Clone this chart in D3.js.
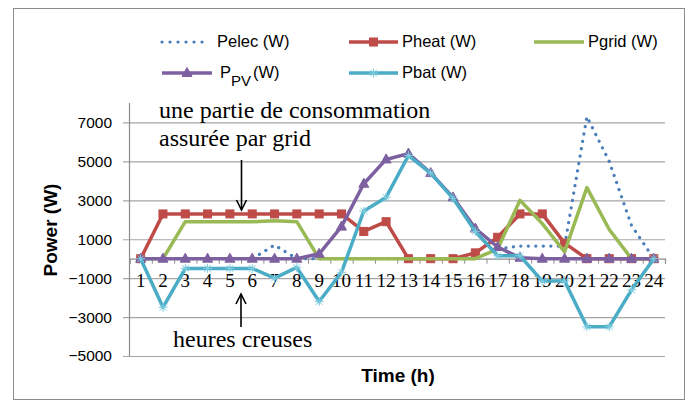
<!DOCTYPE html>
<html>
<head>
<meta charset="utf-8">
<script src="https://cdn.jsdelivr.net/npm/d3@7"></script>
<style>
  body { margin: 0; background: #fff; }
  svg { display: block; }
</style>
</head>
<body>
<script>
// Hourly power profile over one day (W)
const hours = d3.range(1, 25);
const pelec = [0, 0, 0, 0, 0, 0, 700, 0, 0, 0, 0, 0, 0, 0, 0, 0, 500, 650, 650, 650, 7300, 5000, 1700, 0];
const pheat = [0, 2300, 2300, 2300, 2300, 2300, 2300, 2300, 2300, 2300, 1400, 1900, 0, 0, 0, 300, 1100, 2300, 2300, 800, 0, 0, 0, 0];
const pgrid = [0, 0, 1900, 1900, 1900, 1900, 1950, 1900, 0, 0, 0, 0, 0, 0, 0, 0, 500, 3000, 1800, 350, 3650, 1500, 0, 0];
const ppv   = [0, 0, 0, 0, 0, 0, 0, 0, 250, 1650, 3850, 5100, 5400, 4400, 3150, 1550, 600, 50, 0, 0, 0, 0, 0, 0];
const pbat  = [0, -2500, -500, -500, -500, -500, -1000, -450, -2200, -700, 2450, 3150, 5300, 4400, 3100, 1400, 150, 150, -1150, -1150, -3500, -3500, -1600, 0];
const yTicks = [-5000, -3000, -1000, 1000, 3000, 5000, 7000];

const W = 691, H = 406;
const plotL = 129.5, plotR = 665, plotT = 103, plotB = 356;

const svg = d3.select("body").append("svg").attr("width", W).attr("height", H);
svg.append("rect").attr("width", W).attr("height", H).attr("fill", "#fff");
svg.append("rect").attr("x", 13.5).attr("y", 8.5).attr("width", 671).attr("height", 391)
  .attr("fill", "none").attr("stroke", "#8c8c8c").attr("stroke-width", 1);

const x = d3.scaleBand().domain(hours).range([plotL, plotR]);
const xEdge = d3.scaleLinear().domain([0, 24]).range([plotL, plotR]);
const y = d3.scaleLinear().domain([-5000, 8000]).range([plotB, plotT]);
const cx = h => x(h) + x.bandwidth() / 2;

// Horizontal gridlines with value labels
const gy = svg.append("g").attr("transform", `translate(${plotR},0)`)
  .call(d3.axisLeft(y).tickValues(yTicks).tickSize(plotR - 123).tickPadding(11).tickFormat(d3.format("d")));
gy.select(".domain").remove();
gy.selectAll(".tick line").attr("stroke", "#a6a6a6").attr("stroke-width", 1.2);
gy.selectAll(".tick text").attr("font-family", "Liberation Sans, Arial, sans-serif")
  .attr("font-size", 15.5).attr("fill", "#000");

// Vertical axis line
svg.append("line").attr("x1", plotL).attr("x2", plotL).attr("y1", plotT).attr("y2", plotB)
  .attr("stroke", "#8c8c8c").attr("stroke-width", 1.2);

// Category axis crossing at zero
const gx = svg.append("g").attr("transform", `translate(0,${y(0)})`)
  .call(d3.axisBottom(xEdge).tickValues(d3.range(0, 25)).tickSize(5).tickFormat(""));
gx.select(".domain").attr("stroke", "#8c8c8c").attr("stroke-width", 1.2);
gx.selectAll(".tick line").attr("stroke", "#8c8c8c");

const gxl = svg.append("g").attr("transform", `translate(0,${y(0)})`)
  .call(d3.axisBottom(x).tickSize(0).tickPadding(15));
gxl.select(".domain").remove();
gxl.selectAll(".tick text").attr("font-family", "Liberation Serif, Times New Roman, serif")
  .attr("font-size", 19).attr("fill", "#000");

// Axis titles
svg.append("text").attr("transform", "translate(57,230) rotate(-90)")
  .attr("text-anchor", "middle").attr("font-family", "Liberation Sans, Arial, sans-serif")
  .attr("font-weight", "bold").attr("font-size", 19).text("Power (W)");
svg.append("text").attr("x", 398).attr("y", 382).attr("text-anchor", "middle")
  .attr("font-family", "Liberation Sans, Arial, sans-serif")
  .attr("font-weight", "bold").attr("font-size", 19).text("Time (h)");

// Marker shapes
function drawMarker(g, kind, px, py, color) {
  if (kind === "square") {
    g.append("rect").attr("x", px - 4).attr("y", py - 4).attr("width", 8).attr("height", 8)
      .attr("fill", color).attr("stroke", color);
  } else if (kind === "triangle") {
    g.append("path").attr("d", `M${px},${py - 5.5}L${px + 5},${py + 3.5}L${px - 5},${py + 3.5}Z`)
      .attr("fill", color).attr("stroke", color);
  } else if (kind === "star") {
    const r = 4.5;
    g.append("path")
      .attr("d", `M${px - r},${py}L${px + r},${py}M${px},${py - r}L${px},${py + r}` +
                 `M${px - r * 0.75},${py - r * 0.75}L${px + r * 0.75},${py + r * 0.75}` +
                 `M${px - r * 0.75},${py + r * 0.75}L${px + r * 0.75},${py - r * 0.75}`)
      .attr("stroke", "#7fcde0").attr("stroke-width", 1).attr("fill", "none");
  }
}

const series = [
  { name: "Pelec (W)", values: pelec, color: "#4a7ebb", dotted: true, marker: null },
  { name: "Pheat (W)", values: pheat, color: "#be4b48", dotted: false, marker: "square" },
  { name: "Pgrid (W)", values: pgrid, color: "#98b954", dotted: false, marker: null },
  { name: "PPV", values: ppv, color: "#7d60a0", dotted: false, marker: "triangle" },
  { name: "Pbat (W)", values: pbat, color: "#4bacc6", dotted: false, marker: "star" }
];

const line = d3.line().x(d => cx(d[0])).y(d => y(d[1]));

series.forEach(s => {
  const g = svg.append("g");
  const pts = hours.map((h, i) => [h, s.values[i]]);
  const p = g.append("path").attr("d", line(pts)).attr("fill", "none")
    .attr("stroke", s.color).attr("stroke-linejoin", "round");
  if (s.dotted) {
    p.attr("stroke-width", 3.2).attr("stroke-dasharray", "0.1 7.4").attr("stroke-linecap", "round");
  } else {
    p.attr("stroke-width", 3.5);
  }
  if (s.marker) pts.forEach(d => drawMarker(g, s.marker, cx(d[0]), y(d[1]), s.color));
});

// Legend
const legendFont = "Liberation Sans, Arial, sans-serif";
const legendItems = [
  { s: series[0], x1: 162, x2: 204, ty: 47, ly: 42, tx: 217 },
  { s: series[1], x1: 349, x2: 398, ty: 47, ly: 42, tx: 402 },
  { s: series[2], x1: 534, x2: 584, ty: 47, ly: 42, tx: 588 },
  { s: series[3], x1: 162, x2: 212, ty: 78, ly: 73, tx: 220 },
  { s: series[4], x1: 349, x2: 398, ty: 78, ly: 73, tx: 402 }
];
legendItems.forEach(it => {
  const g = svg.append("g");
  const l = g.append("line").attr("x1", it.x1).attr("x2", it.x2).attr("y1", it.ly).attr("y2", it.ly)
    .attr("stroke", it.s.color);
  if (it.s.dotted) {
    l.attr("stroke-width", 3.2).attr("stroke-dasharray", "0.1 7.9").attr("stroke-linecap", "round");
  } else {
    l.attr("stroke-width", 3.5);
  }
  if (it.s.marker) drawMarker(g, it.s.marker, (it.x1 + it.x2) / 2, it.ly, it.s.color);
  const t = g.append("text").attr("x", it.tx).attr("y", it.ty)
    .attr("font-family", legendFont).attr("font-size", 16.5).attr("fill", "#000");
  if (it.s.name === "PPV") {
    t.append("tspan").text("P");
    t.append("tspan").attr("dy", 8).attr("font-size", 15).text("PV");
    t.append("tspan").attr("dy", -8).attr("dx", 2).text("(W)");
  } else {
    t.text(it.s.name);
  }
});

// Annotations
const serif = "Liberation Serif, Times New Roman, serif";
svg.append("text").attr("x", 159).attr("y", 118).attr("font-family", serif).attr("font-size", 24)
  .text("une partie de consommation");
svg.append("text").attr("x", 159).attr("y", 146).attr("font-family", serif).attr("font-size", 24)
  .text("assurée par grid");
svg.append("text").attr("x", 173).attr("y", 347).attr("font-family", serif).attr("font-size", 24)
  .text("heures creuses");

const arrows = svg.append("g").attr("stroke", "#000").attr("stroke-width", 1.6).attr("fill", "none");
arrows.append("line").attr("x1", 241.5).attr("x2", 241.5).attr("y1", 160).attr("y2", 210);
arrows.append("path").attr("d", "M236.5,200L241.5,210L246.5,200");
arrows.append("line").attr("x1", 241).attr("x2", 241).attr("y1", 327).attr("y2", 294);
arrows.append("path").attr("d", "M236,304L241,294L246,304");
</script>
</body>
</html>
